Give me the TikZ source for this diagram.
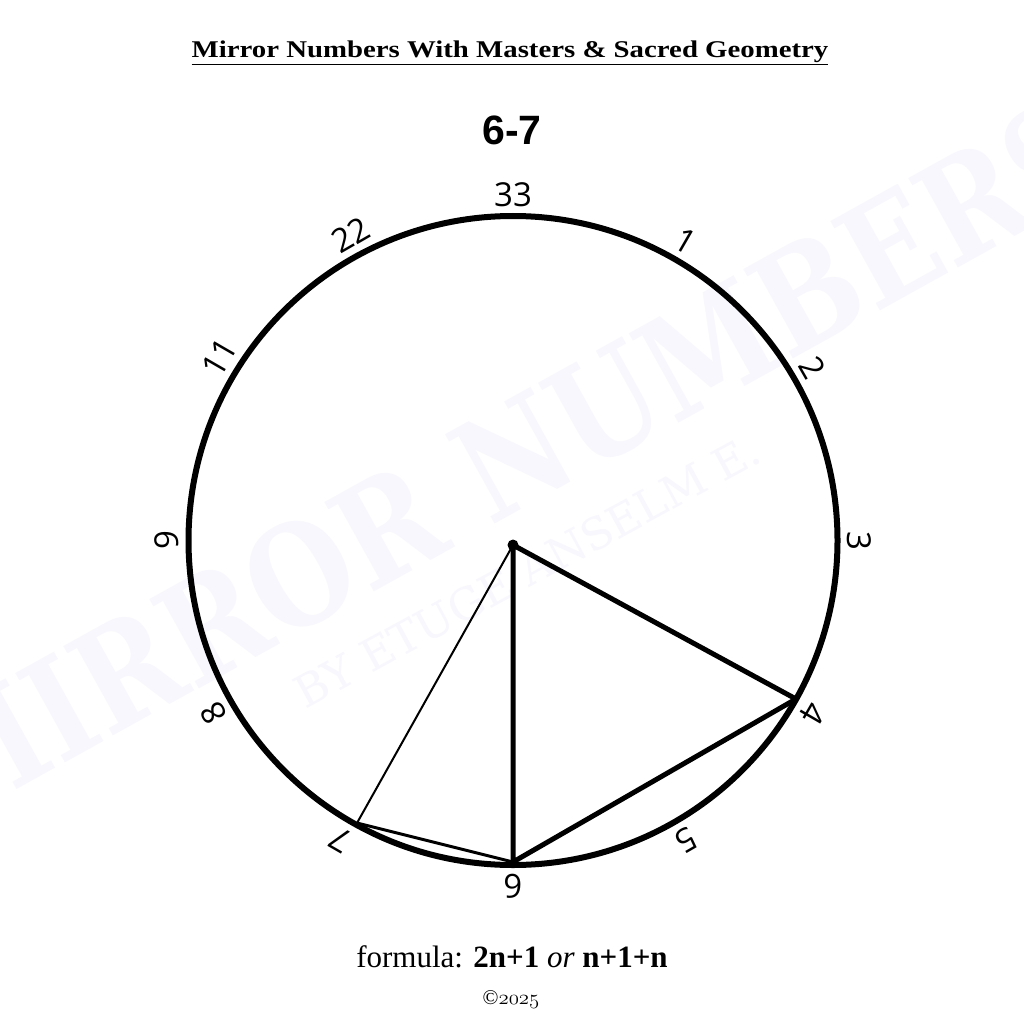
\documentclass[tikz,border=0pt]{standalone}
\usepackage{graphicx}
\usepackage{fontspec}
\setmainfont{Liberation Serif}
\newfontfamily\titlefont[FakeStretch=1.2]{Liberation Serif}
\newfontfamily\labfont{Open Sans}
\newfontfamily\headfont{Liberation Sans}
\newfontfamily\wmfont{DejaVu Serif}
\definecolor{wm}{HTML}{F7F7FD}
\begin{document}
\begin{tikzpicture}[x=1pt,y=-1pt,
  lab/.style={font=\labfont\fontsize{33}{33}\selectfont, inner sep=0pt, anchor=center},
  rim/.style={line width=6pt},
  thick line/.style={line width=5pt, line cap=round, line join=round},
  thin line/.style={line width=2pt},
  mid line/.style={line width=3pt},
  wmtext/.style={text=wm, inner sep=0pt, anchor=base}]
\fill[white] (0,0) rectangle (1024,1024);
\useasboundingbox (0,0) rectangle (1024,1024);
% watermark
\node[wmtext, rotate=29, font=\wmfont\bfseries\fontsize{140}{140}\selectfont] (wm1) at (530,505) {\scalebox{0.84}[1]{MIRROR NUMBERS}};
\node[wmtext, rotate=28.5, font=\wmfont\fontsize{44}{44}\selectfont] (wm2) at (535,585) {BY ETUGE ANSELM E.};
% title
\node[font=\titlefont\bfseries\fontsize{24}{24}\selectfont, inner sep=0pt, anchor=base] (title) at (510,58) {\underline{Mirror Numbers With Masters \& Sacred Geometry}};
\node[font=\headfont\bfseries\fontsize{41}{41}\selectfont, inner sep=0pt, anchor=base] (head) at (512,145) {6-7};
% circle
\coordinate (C) at (513,540.5);
\draw[rim] (C) circle[radius=324.5];
% labels: text / position angle / rotation angle
\foreach \t/\p/\a in {33/0/0,1/30/30,2/60/60,3/90/90,4/120/120,5/150/150,6/180/180,7/210/210,8/240/240,9/270/270,11/302/300,22/332/330}{
  \node[lab, rotate=-\a] (l\t) at ({513+346*sin(\p)},{540.5-346*cos(\p)}) {\t};
}
% points
\coordinate (O) at (513,545);
\coordinate (P4) at (796,699);
\coordinate (P6) at (513,862);
\coordinate (P7) at (357,823);
\draw[thin line] (O) -- (P7);
\draw[mid line] (P7) -- (P6);
\draw[thick line] (O) -- (P4) -- (P6) -- cycle;
\fill (O) circle[radius=5.5];
% formula
\node[font=\fontsize{31}{31}\selectfont, inner sep=0pt, anchor=base] (formula) at (512,967) {formula: \textbf{2n+1} \textit{or} \textbf{n+1+n}};
\node[font=\fontsize{21}{21}\selectfont, inner sep=0pt, anchor=base] (copy) at (511,1004) {©{\usefont{OML}{cmm}{m}{it}2025}};
\end{tikzpicture}
\end{document}
